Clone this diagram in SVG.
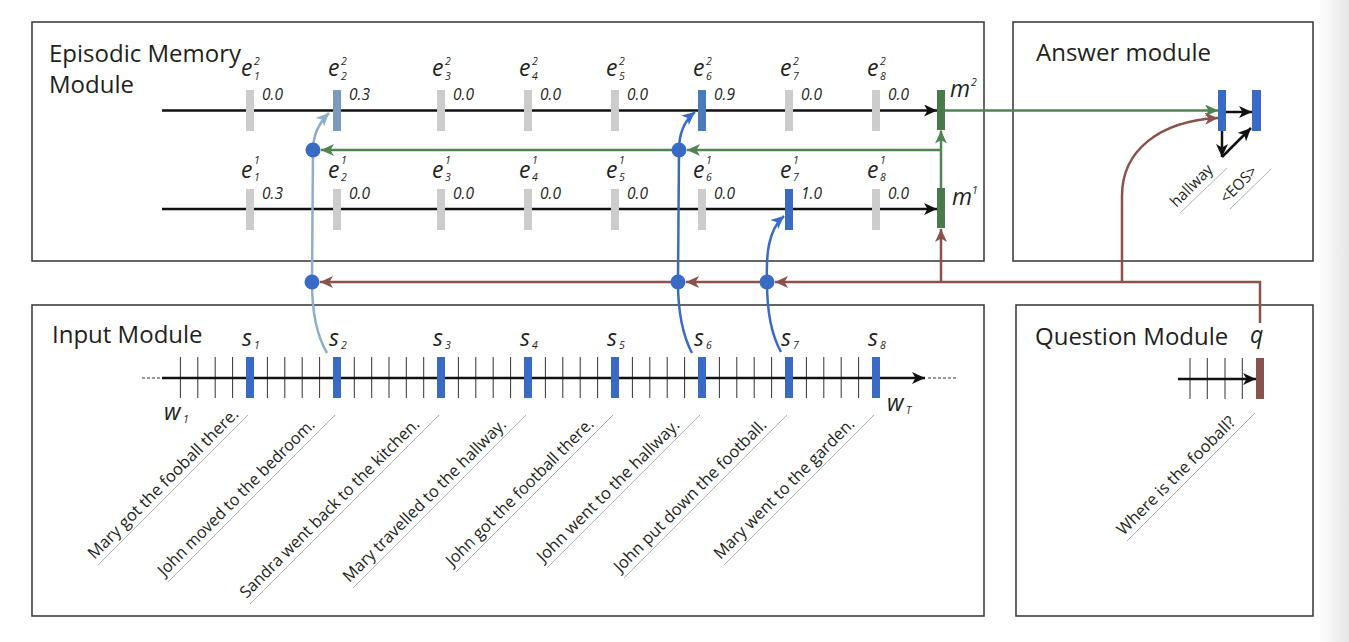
<svg xmlns="http://www.w3.org/2000/svg" width="1349" height="642" viewBox="0 0 1349 642">
<style>
  text { font-family: "Open Sans", "Noto Sans", "Liberation Sans", sans-serif; fill: #231f20; }
  .title { font-size: 24px; }
  .lbl { font-size: 23px; font-style: italic; }
  .sm { font-size: 10.5px; font-style: italic; }
  .val { font-size: 15.5px; font-style: italic; }
  .sent { font-size: 16.5px; }
  .box { fill: none; stroke: #404040; stroke-width: 1.6; }
  .gray { fill: #cccccc; }
  .blue { fill: #3a6bc4; }
  .green { fill: #4a7a49; }
  .brownf { fill: #8a524d; }
  .kline { stroke: #111; stroke-width: 2.5; fill: none; }
  .tick { stroke: #333; stroke-width: 1; }
  .dash { stroke: #333; stroke-width: 1; stroke-dasharray: 3 2; }
  .gline { stroke: #4f8450; stroke-width: 2.5; fill: none; }
  .bline { stroke: #8a524d; stroke-width: 2.5; fill: none; }
  .blline { stroke: #3a6bc4; stroke-width: 2.5; fill: none; }
  .lbline { stroke: #8eaecb; stroke-width: 2.5; fill: none; }
  .ul { stroke: #a8a8a8; stroke-width: 0.9; }
  .dot { fill: #3a6bc4; }
</style>
<defs>
  <linearGradient id="shade" x1="0" y1="0" x2="1" y2="0">
    <stop offset="0" stop-color="#ffffff"/>
    <stop offset="1" stop-color="#e6e6e6"/>
  </linearGradient>
  <marker id="ah-k" markerUnits="userSpaceOnUse" viewBox="0 0 13 12" refX="13" refY="6" markerWidth="13" markerHeight="12" orient="auto"><path d="M0,0 L13,6 L0,12 L3.5,6 Z" fill="#111"/></marker>
  <marker id="ah-g" markerUnits="userSpaceOnUse" viewBox="0 0 13 12" refX="13" refY="6" markerWidth="13" markerHeight="12" orient="auto"><path d="M0,0 L13,6 L0,12 L3.5,6 Z" fill="#4f8450"/></marker>
  <marker id="ah-r" markerUnits="userSpaceOnUse" viewBox="0 0 13 12" refX="13" refY="6" markerWidth="13" markerHeight="12" orient="auto"><path d="M0,0 L13,6 L0,12 L3.5,6 Z" fill="#8a524d"/></marker>
  <marker id="ah-b" markerUnits="userSpaceOnUse" viewBox="0 0 13 12" refX="13" refY="6" markerWidth="13" markerHeight="12" orient="auto"><path d="M0,0 L13,6 L0,12 L3.5,6 Z" fill="#3a6bc4"/></marker>
  <marker id="ah-lb" markerUnits="userSpaceOnUse" viewBox="0 0 13 12" refX="13" refY="6" markerWidth="13" markerHeight="12" orient="auto"><path d="M0,0 L13,6 L0,12 L3.5,6 Z" fill="#8eaecb"/></marker>
</defs>
<rect x="0" y="0" width="1349" height="642" fill="#ffffff"/>
<rect x="1318" y="0" width="31" height="642" fill="url(#shade)"/>

<!-- Episodic Memory Module -->
<g id="episodic-memory-module">
  <rect class="box" x="32" y="22" width="952" height="239"/>
  <text class="title" x="49" y="62">Episodic Memory</text>
  <text class="title" x="49" y="93">Module</text>
  <!-- row 2 -->
  <path class="kline" d="M162,110.5 H937" marker-end="url(#ah-k)"/>
  <rect class="gray" x="246" y="90" width="8" height="41"/>
  <rect x="333" y="90" width="8" height="41" fill="#7b9bba"/>
  <rect class="gray" x="437" y="90" width="8" height="41"/>
  <rect class="gray" x="524" y="90" width="8" height="41"/>
  <rect class="gray" x="611" y="90" width="8" height="41"/>
  <rect x="698" y="90" width="8" height="41" fill="#4a7db8"/>
  <rect class="gray" x="785" y="90" width="8" height="41"/>
  <rect class="gray" x="872" y="90" width="8" height="41"/>
  <g>
    <text class="lbl" x="241" y="76">e</text><text class="sm" x="254" y="65">2</text><text class="sm" x="254" y="80">1</text>
    <text class="lbl" x="328" y="76">e</text><text class="sm" x="341" y="65">2</text><text class="sm" x="341" y="80">2</text>
    <text class="lbl" x="432" y="76">e</text><text class="sm" x="445" y="65">2</text><text class="sm" x="445" y="80">3</text>
    <text class="lbl" x="519" y="76">e</text><text class="sm" x="532" y="65">2</text><text class="sm" x="532" y="80">4</text>
    <text class="lbl" x="606" y="76">e</text><text class="sm" x="619" y="65">2</text><text class="sm" x="619" y="80">5</text>
    <text class="lbl" x="693" y="76">e</text><text class="sm" x="706" y="65">2</text><text class="sm" x="706" y="80">6</text>
    <text class="lbl" x="780" y="76">e</text><text class="sm" x="793" y="65">2</text><text class="sm" x="793" y="80">7</text>
    <text class="lbl" x="867" y="76">e</text><text class="sm" x="880" y="65">2</text><text class="sm" x="880" y="80">8</text>
  </g>
  <g>
    <text class="val" x="262" y="100">0.0</text>
    <text class="val" x="349" y="100">0.3</text>
    <text class="val" x="453" y="100">0.0</text>
    <text class="val" x="540" y="100">0.0</text>
    <text class="val" x="627" y="100">0.0</text>
    <text class="val" x="714" y="100">0.9</text>
    <text class="val" x="801" y="100">0.0</text>
    <text class="val" x="888" y="100">0.0</text>
  </g>
  <!-- row 1 -->
  <path class="kline" d="M162,209 H937" marker-end="url(#ah-k)"/>
  <rect class="gray" x="246" y="189" width="8" height="41"/>
  <rect class="gray" x="333" y="189" width="8" height="41"/>
  <rect class="gray" x="437" y="189" width="8" height="41"/>
  <rect class="gray" x="524" y="189" width="8" height="41"/>
  <rect class="gray" x="611" y="189" width="8" height="41"/>
  <rect class="gray" x="698" y="189" width="8" height="41"/>
  <rect class="blue" x="785" y="189" width="8" height="41"/>
  <rect class="gray" x="872" y="189" width="8" height="41"/>
  <g>
    <text class="lbl" x="241" y="178">e</text><text class="sm" x="254" y="164">1</text><text class="sm" x="254" y="181">1</text>
    <text class="lbl" x="328" y="178">e</text><text class="sm" x="341" y="164">1</text><text class="sm" x="341" y="181">2</text>
    <text class="lbl" x="432" y="178">e</text><text class="sm" x="445" y="164">1</text><text class="sm" x="445" y="181">3</text>
    <text class="lbl" x="519" y="178">e</text><text class="sm" x="532" y="164">1</text><text class="sm" x="532" y="181">4</text>
    <text class="lbl" x="606" y="178">e</text><text class="sm" x="619" y="164">1</text><text class="sm" x="619" y="181">5</text>
    <text class="lbl" x="693" y="178">e</text><text class="sm" x="706" y="164">1</text><text class="sm" x="706" y="181">6</text>
    <text class="lbl" x="780" y="178">e</text><text class="sm" x="793" y="164">1</text><text class="sm" x="793" y="181">7</text>
    <text class="lbl" x="867" y="178">e</text><text class="sm" x="880" y="164">1</text><text class="sm" x="880" y="181">8</text>
  </g>
  <g>
    <text class="val" x="262" y="199">0.3</text>
    <text class="val" x="349" y="199">0.0</text>
    <text class="val" x="453" y="199">0.0</text>
    <text class="val" x="540" y="199">0.0</text>
    <text class="val" x="627" y="199">0.0</text>
    <text class="val" x="714" y="199">0.0</text>
    <text class="val" x="801" y="199">1.0</text>
    <text class="val" x="888" y="199">0.0</text>
  </g>
  <!-- memory vectors -->
  <rect class="green" x="937" y="90" width="8" height="40"/>
  <rect class="green" x="937" y="188" width="8" height="40"/>
  <text class="lbl" x="950" y="97">m</text><text class="sm" x="971" y="86">2</text>
  <text class="lbl" x="952" y="205">m</text><text class="sm" x="972" y="194">1</text>
</g>

<!-- Answer module -->
<g id="answer-module">
  <rect class="box" x="1013" y="22" width="300" height="239"/>
  <text class="title" x="1036" y="61">Answer module</text>
  <rect class="blue" x="1218" y="90" width="8" height="41"/>
  <rect class="blue" x="1252" y="90" width="9" height="41"/>
  <path class="kline" d="M1226,112 H1252" marker-end="url(#ah-k)"/>
  <path class="kline" d="M1222,131 V157" marker-end="url(#ah-k)"/>
  <path class="kline" d="M1222,157 L1251,128" marker-end="url(#ah-k)"/>
  <line class="ul" x1="1180" y1="213" x2="1227" y2="168"/>
  <line class="ul" x1="1230" y1="209" x2="1271" y2="169"/>
  <text x="1176.5" y="208" font-size="15.5" textLength="53" lengthAdjust="spacingAndGlyphs" transform="rotate(-45 1176.5 208)">hallway</text>
  <text x="1226.5" y="204" font-size="15.5" textLength="45" lengthAdjust="spacingAndGlyphs" transform="rotate(-45 1226.5 204)">&lt;EOS&gt;</text>
</g>

<!-- Input Module -->
<g id="input-module">
  <rect class="box" x="32" y="305" width="952" height="311"/>
  <text class="title" x="52" y="343">Input Module</text>
  <line class="dash" x1="142" y1="378" x2="161" y2="378"/>
  <line class="dash" x1="928" y1="378" x2="957" y2="378"/>
  <g>
    <line class="tick" x1="180.4" y1="357" x2="180.4" y2="398"/>
    <line class="tick" x1="197.8" y1="357" x2="197.8" y2="398"/>
    <line class="tick" x1="215.2" y1="357" x2="215.2" y2="398"/>
    <line class="tick" x1="232.6" y1="357" x2="232.6" y2="398"/>
    <line class="tick" x1="267.4" y1="357" x2="267.4" y2="398"/>
    <line class="tick" x1="284.8" y1="357" x2="284.8" y2="398"/>
    <line class="tick" x1="302.2" y1="357" x2="302.2" y2="398"/>
    <line class="tick" x1="319.6" y1="357" x2="319.6" y2="398"/>
    <line class="tick" x1="354.3" y1="357" x2="354.3" y2="398"/>
    <line class="tick" x1="371.7" y1="357" x2="371.7" y2="398"/>
    <line class="tick" x1="389" y1="357" x2="389" y2="398"/>
    <line class="tick" x1="406.3" y1="357" x2="406.3" y2="398"/>
    <line class="tick" x1="423.7" y1="357" x2="423.7" y2="398"/>
    <line class="tick" x1="458.4" y1="357" x2="458.4" y2="398"/>
    <line class="tick" x1="475.8" y1="357" x2="475.8" y2="398"/>
    <line class="tick" x1="493.2" y1="357" x2="493.2" y2="398"/>
    <line class="tick" x1="510.6" y1="357" x2="510.6" y2="398"/>
    <line class="tick" x1="545.4" y1="357" x2="545.4" y2="398"/>
    <line class="tick" x1="562.8" y1="357" x2="562.8" y2="398"/>
    <line class="tick" x1="580.2" y1="357" x2="580.2" y2="398"/>
    <line class="tick" x1="597.6" y1="357" x2="597.6" y2="398"/>
    <line class="tick" x1="632.4" y1="357" x2="632.4" y2="398"/>
    <line class="tick" x1="649.8" y1="357" x2="649.8" y2="398"/>
    <line class="tick" x1="667.2" y1="357" x2="667.2" y2="398"/>
    <line class="tick" x1="684.6" y1="357" x2="684.6" y2="398"/>
    <line class="tick" x1="719.4" y1="357" x2="719.4" y2="398"/>
    <line class="tick" x1="736.8" y1="357" x2="736.8" y2="398"/>
    <line class="tick" x1="754.2" y1="357" x2="754.2" y2="398"/>
    <line class="tick" x1="771.6" y1="357" x2="771.6" y2="398"/>
    <line class="tick" x1="806.4" y1="357" x2="806.4" y2="398"/>
    <line class="tick" x1="823.8" y1="357" x2="823.8" y2="398"/>
    <line class="tick" x1="841.2" y1="357" x2="841.2" y2="398"/>
    <line class="tick" x1="858.6" y1="357" x2="858.6" y2="398"/>
  </g>
  <path class="kline" d="M162,378 H925" marker-end="url(#ah-k)"/>
  <rect class="blue" x="246" y="357" width="8" height="41"/>
  <rect class="blue" x="333" y="357" width="8" height="41"/>
  <rect class="blue" x="437" y="357" width="8" height="41"/>
  <rect class="blue" x="524" y="357" width="8" height="41"/>
  <rect class="blue" x="611" y="357" width="8" height="41"/>
  <rect class="blue" x="698" y="357" width="8" height="41"/>
  <rect class="blue" x="785" y="357" width="8" height="41"/>
  <rect class="blue" x="872" y="357" width="8" height="41"/>
  <g>
    <text class="lbl" x="242" y="346">s</text><text class="sm" x="254" y="349">1</text>
    <text class="lbl" x="329" y="346">s</text><text class="sm" x="341" y="349">2</text>
    <text class="lbl" x="433" y="346">s</text><text class="sm" x="445" y="349">3</text>
    <text class="lbl" x="520" y="346">s</text><text class="sm" x="532" y="349">4</text>
    <text class="lbl" x="607" y="346">s</text><text class="sm" x="619" y="349">5</text>
    <text class="lbl" x="694" y="346">s</text><text class="sm" x="706" y="349">6</text>
    <text class="lbl" x="781" y="346">s</text><text class="sm" x="793" y="349">7</text>
    <text class="lbl" x="868" y="346">s</text><text class="sm" x="880" y="349">8</text>
  </g>
  <text class="lbl" x="164" y="420">w</text><text class="sm" x="183" y="423">1</text>
  <text class="lbl" x="887" y="411">w</text><text class="sm" x="906" y="414">T</text>
  <g>
    <line class="ul" x1="98" y1="565" x2="248" y2="415"/>
    <line class="ul" x1="168" y1="582" x2="335" y2="415"/>
    <line class="ul" x1="250" y1="604" x2="439" y2="415"/>
    <line class="ul" x1="353" y1="588" x2="526" y2="415"/>
    <line class="ul" x1="456" y1="572" x2="613" y2="415"/>
    <line class="ul" x1="547" y1="568" x2="700" y2="415"/>
    <line class="ul" x1="624" y1="578" x2="787" y2="415"/>
    <line class="ul" x1="724" y1="565" x2="874" y2="415"/>
  </g>
  <g>
    <text class="sent" x="94.5" y="560.1" textLength="205" lengthAdjust="spacingAndGlyphs" transform="rotate(-45 94.5 560.1)">Mary got the fooball there.</text>
    <text class="sent" x="164.5" y="577.1" textLength="214" lengthAdjust="spacingAndGlyphs" transform="rotate(-45 164.5 577.1)">John moved to the bedroom.</text>
    <text class="sent" x="246.5" y="599.1" textLength="246" lengthAdjust="spacingAndGlyphs" transform="rotate(-45 246.5 599.1)">Sandra went back to the kitchen.</text>
    <text class="sent" x="349.5" y="583.1" textLength="223" lengthAdjust="spacingAndGlyphs" transform="rotate(-45 349.5 583.1)">Mary travelled to the hallway.</text>
    <text class="sent" x="452.5" y="567.1" textLength="201" lengthAdjust="spacingAndGlyphs" transform="rotate(-45 452.5 567.1)">John got the football there.</text>
    <text class="sent" x="543.5" y="563.1" textLength="194" lengthAdjust="spacingAndGlyphs" transform="rotate(-45 543.5 563.1)">John went to the hallway.</text>
    <text class="sent" x="620.5" y="573.1" textLength="208" lengthAdjust="spacingAndGlyphs" transform="rotate(-45 620.5 573.1)">John put down the football.</text>
    <text class="sent" x="720.5" y="560.1" textLength="191" lengthAdjust="spacingAndGlyphs" transform="rotate(-45 720.5 560.1)">Mary went to the garden.</text>
  </g>
</g>

<!-- Question Module -->
<g id="question-module">
  <rect class="box" x="1016" y="305" width="297" height="311"/>
  <text class="title" x="1035" y="345">Question Module</text>
  <text class="lbl" x="1250" y="343">q</text>
  <line class="tick" x1="1190" y1="358" x2="1190" y2="399"/>
  <line class="tick" x1="1207.3" y1="358" x2="1207.3" y2="399"/>
  <line class="tick" x1="1225" y1="358" x2="1225" y2="399"/>
  <line class="tick" x1="1242.3" y1="358" x2="1242.3" y2="399"/>
  <path class="kline" d="M1178,379 H1256" marker-end="url(#ah-k)"/>
  <rect class="brownf" x="1256" y="358" width="8" height="41"/>
  <line class="ul" x1="1127" y1="541" x2="1255" y2="413"/>
  <text class="sent" x="1123.5" y="536" textLength="160" lengthAdjust="spacingAndGlyphs" transform="rotate(-45 1123.5 536)">Where is the fooball?</text>
</g>

<!-- Connectors -->
<g id="connectors">
  <!-- green -->
  <path class="gline" d="M945,110.5 H1218" marker-end="url(#ah-g)"/>
  <path class="gline" d="M941,188 V130.5" marker-end="url(#ah-g)"/>
  <path class="gline" d="M941,150 H687" marker-end="url(#ah-g)"/>
  <path class="gline" d="M672,150 H321" marker-end="url(#ah-g)"/>
  <!-- brown -->
  <path class="bline" d="M1260,323 V282 H775" marker-end="url(#ah-r)"/>
  <path class="bline" d="M760,282 H686" marker-end="url(#ah-r)"/>
  <path class="bline" d="M671,282 H320" marker-end="url(#ah-r)"/>
  <path class="bline" d="M941,282 V229" marker-end="url(#ah-r)"/>
  <path class="bline" d="M1122,282 V196 C1122,150 1160,121 1218,118" marker-end="url(#ah-r)"/>
  <!-- blue attention curves -->
  <path class="lbline" d="M327,353 C317,336 312,312 312,282 L313,150 C313,136 318,124 329,113" marker-end="url(#ah-lb)"/>
  <path class="blline" d="M692,353 C683,336 678,312 678,282 L679,150 C679,135 684,121 695,112" marker-end="url(#ah-b)"/>
  <path class="blline" d="M781,352 C772,336 767,312 767,282 C766,255 768,230 784,216" marker-end="url(#ah-b)"/>
  <circle class="dot" cx="312" cy="282" r="7.5"/>
  <circle class="dot" cx="313" cy="150" r="7.5"/>
  <circle class="dot" cx="678" cy="282" r="7.5"/>
  <circle class="dot" cx="679" cy="150" r="7.5"/>
  <circle class="dot" cx="767" cy="282" r="7.5"/>
</g>
</svg>
